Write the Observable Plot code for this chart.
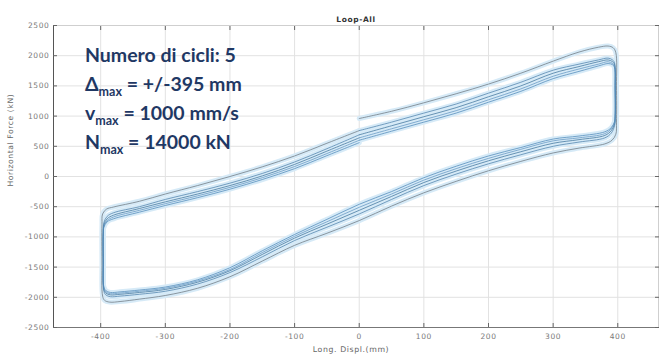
<!DOCTYPE html>
<html><head><meta charset="utf-8">
<script src="https://cdn.jsdelivr.net/npm/d3@7"></script>
<script src="https://cdn.jsdelivr.net/npm/@observablehq/plot@0.6"></script>
<style>body{margin:0;background:#fff}#chart{width:662px;height:356px}</style>
</head><body><div id="chart"></div>
<script>
const xTicks = [-400, -300, -200, -100, 0, 100, 200, 300, 400];
const yTicks = [-2500, -2000, -1500, -1000, -500, 0, 500, 1000, 1500, 2000, 2500];

// displacement sequence of one cycle (mm): 0 -> +395 (upper), drop, +395 -> -395 (lower), rise, -395 -> 0 (upper)
const pathX = [0, 50, 100, 150, 200, 250, 300, 340, 370, 385, 392,
  395, 396, 396, 395, 390, 380,
  340, 300, 250, 200, 150, 100, 50, 0, -50, -100, -150, -200, -250, -300, -340, -370, -385, -392,
  -395, -396, -396, -395, -390, -380,
  -340, -300, -250, -200, -150, -100, -50, 0];
const pathX1 = [0, 50, 100, 150, 200, 250, 300, 340, 370, 385, 393,
  397, 398, 398, 397, 391, 380,
  340, 300, 250, 200, 150, 100, 50, 0, -50, -100, -150, -200, -250, -300, -340, -370, -386, -394,
  -397, -398, -398, -397, -391, -380,
  -340, -300, -250, -200, -150, -100, -50, 0];

// horizontal force (kN) per cycle
const cycle1 = [960, 1080, 1220, 1370, 1530, 1710, 1910, 2060, 2140, 2160, 2130,
  2050, 1500, 900, 700, 600, 540,
  470, 390, 250, 95, -80, -270, -490, -730, -940, -1140, -1400, -1660, -1850, -1970, -2030, -2070, -2080, -2050,
  -1980, -1400, -800, -620, -540, -505,
  -410, -290, -150, 0, 160, 340, 550, 760];
const cycle2 = [760, 900, 1050, 1200, 1380, 1560, 1760, 1860, 1930, 1960, 1930,
  1880, 1500, 1000, 840, 720, 640,
  570, 500, 360, 210, 40, -150, -380, -620, -840, -1060, -1330, -1590, -1780, -1900, -1950, -1980, -1990, -1960,
  -1900, -1400, -900, -760, -660, -600,
  -500, -380, -250, -110, 50, 240, 460, 690];
const cycle3 = [690, 840, 990, 1140, 1320, 1500, 1710, 1820, 1900, 1930, 1900,
  1850, 1450, 1000, 870, 760, 680,
  610, 550, 410, 260, 90, -100, -330, -560, -790, -1020, -1290, -1560, -1750, -1870, -1920, -1950, -1960, -1930,
  -1870, -1400, -950, -800, -700, -640,
  -530, -420, -290, -150, 10, 200, 420, 640];
const cycle4 = [640, 790, 940, 1090, 1270, 1450, 1660, 1780, 1860, 1900, 1870,
  1820, 1450, 1000, 890, 790, 710,
  640, 590, 450, 300, 130, -60, -290, -510, -750, -990, -1260, -1540, -1730, -1850, -1900, -1930, -1940, -1910,
  -1850, -1400, -950, -820, -730, -670,
  -560, -450, -320, -180, -20, 165, 380, 600];
const cycle5 = [600, 750, 900, 1050, 1230, 1410, 1620, 1740, 1830, 1870, 1850,
  1800, 1400, 1000, 910, 810, 740,
  670, 620, 480, 340, 170, -20, -250, -460, -710, -960, -1230, -1510, -1710, -1830, -1880, -1910, -1920, -1890,
  -1830, -1400, -950, -840, -750, -700,
  -590, -480, -350, -210, -50, 130, 345, 560];

const cycles = [cycle1, cycle2, cycle3, cycle4, cycle5];
const lineColors = ["#6a737c", "#4a7ea8", "#3a6f98", "#5f93bf", "#4b86b6"];

const data = cycles.flatMap((ys, c) => ys.map((y, i) => ({cycle: c, x: (c === 0 ? pathX1 : pathX)[i], y})));

const axisFont = "'DejaVu Sans', Verdana, sans-serif";
const plot = Plot.plot({
  width: 662, height: 356,
  marginLeft: 53, marginRight: 4, marginTop: 25, marginBottom: 29,
  style: {fontFamily: axisFont, fontSize: "7.5px", color: "#7a7a7a", background: "#fff", overflow: "visible", letterSpacing: "0.6px"},
  x: {domain: [-473, 463]},
  y: {domain: [-2500, 2500]},
  marks: [
    Plot.gridX(xTicks, {stroke: "#e2e2e2", strokeOpacity: 1}),
    Plot.gridY(yTicks, {stroke: "#e2e2e2", strokeOpacity: 1}),
    Plot.frame({stroke: "#cfcfcf"}),
    Plot.ruleX([-473], {stroke: "#555"}),
    Plot.ruleY([-2500], {stroke: "#777"}),
    Plot.line(data, {x: "x", y: "y", z: "cycle", stroke: "#d6eaf7", strokeWidth: 5, curve: "catmull-rom"}),
    ...cycles.map((ys, c) => Plot.line(data.filter(d => d.cycle === c), {x: "x", y: "y", stroke: lineColors[c], strokeWidth: 0.8, strokeOpacity: 0.9, curve: "catmull-rom"})),
    Plot.axisX(xTicks, {anchor: "bottom", tickSize: -4, tickPadding: 10, tickFormat: d => String(d), label: null, stroke: "#666", fill: "#7a7a7a"}),
    Plot.axisX(xTicks, {anchor: "top", tickSize: -4, tickFormat: () => "", label: null, stroke: "#666"}),
    Plot.axisY(yTicks, {anchor: "left", tickSize: -4, tickPadding: 8, tickFormat: d => String(d), label: null, stroke: "#666", fill: "#7a7a7a"}),
    Plot.axisY(yTicks, {anchor: "right", tickSize: -4, tickFormat: () => "", label: null, stroke: "#666"}),
    Plot.text(["Loop-All"], {frameAnchor: "top", dy: -9, fontWeight: "bold", fontSize: 7.5, fill: "#333"}),
    Plot.text(["Long. Displ.(mm)"], {frameAnchor: "bottom", dy: 24, dx: -5, fontSize: 7.8, fill: "#666"}),
    Plot.text(["Horizontal Force (kN)"], {frameAnchor: "left", dx: -43, dy: 10, rotate: -90, fontSize: 7.6, fill: "#666"})
  ]
});
document.getElementById("chart").append(plot);

// annotation block
const svg = d3.select(plot);
const notes = [
  {main: "Numero di cicli: 5", sub: null, rest: null, y: 62},
  {main: "Δ", sub: "max", rest: " = +/-395 mm", y: 91},
  {main: "v", sub: "max", rest: " = 1000 mm/s", y: 120},
  {main: "N", sub: "max", rest: " = 14000 kN", y: 149}
];
const g = svg.append("g").attr("font-family", "Lato, 'Noto Sans', sans-serif").attr("font-weight", "bold")
  .attr("fill", "#1f3864").attr("text-anchor", "start").attr("letter-spacing", "0");
notes.forEach(n => {
  const t = g.append("text").attr("x", 85).attr("y", n.y).attr("font-size", 19.5).attr("text-anchor", "start");
  t.append("tspan").text(n.main);
  if (n.sub) {
    t.append("tspan").attr("font-size", 12.5).attr("dy", 5).text(n.sub);
    t.append("tspan").attr("dy", -5).text(n.rest);
  }
});
</script>
</body></html>
